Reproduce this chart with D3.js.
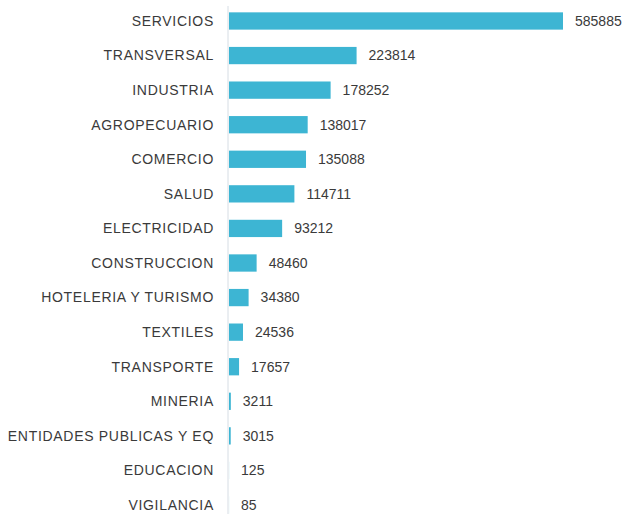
<!DOCTYPE html>
<html>
<head>
<meta charset="utf-8">
<script src="https://cdn.jsdelivr.net/npm/d3@7/dist/d3.min.js"></script>
<style>
  html, body { margin: 0; padding: 0; background: #ffffff; }
  svg { display: block; }
  text { font-family: "Liberation Sans", Arial, sans-serif; fill: #3a3a3a; }
</style>
</head>
<body>
<svg id="chart" width="623" height="514"></svg>
<script>
// Sectores y número de registros
const sectores = [
  "SERVICIOS", "TRANSVERSAL", "INDUSTRIA", "AGROPECUARIO", "COMERCIO",
  "SALUD", "ELECTRICIDAD", "CONSTRUCCION", "HOTELERIA Y TURISMO", "TEXTILES",
  "TRANSPORTE", "MINERIA", "ENTIDADES PUBLICAS Y EQ", "EDUCACION", "VIGILANCIA"
];
const registros = [
  585885, 223814, 178252, 138017, 135088,
  114711, 93212, 48460, 34380, 24536,
  17657, 3211, 3015, 125, 85
];

const svg = d3.select("#chart");
const x0 = 229;

const x = d3.scaleLinear()
  .domain([0, d3.max(registros)])
  .range([x0, 563]);

const y = d3.scaleBand()
  .domain(sectores)
  .range([3.7, 522.3])
  .paddingInner(0.5)
  .paddingOuter(0.25);

const datos = sectores.map((s, i) => ({ sector: s, valor: registros[i] }));

// eje vertical
svg.append("line")
  .attr("x1", x0 - 1).attr("x2", x0 - 1)
  .attr("y1", 6).attr("y2", 514)
  .attr("stroke", "#d6dde4")
  .attr("stroke-width", 1);

// barras
svg.selectAll("rect.barra")
  .data(datos)
  .join("rect")
  .attr("class", "barra")
  .attr("x", x0)
  .attr("y", d => y(d.sector))
  .attr("width", d => Math.max(0, x(d.valor) - x0))
  .attr("height", y.bandwidth())
  .attr("fill", "#3db5d3");

// etiquetas de categoría
svg.selectAll("text.cat")
  .data(datos)
  .join("text")
  .attr("class", "cat")
  .attr("x", 214)
  .attr("y", d => y(d.sector) + y.bandwidth() / 2)
  .attr("dy", "0.35em")
  .attr("text-anchor", "end")
  .attr("font-size", 14)
  .attr("letter-spacing", "0.7px")
  .text(d => d.sector);

// etiquetas de valor
svg.selectAll("text.val")
  .data(datos)
  .join("text")
  .attr("class", "val")
  .attr("x", d => x(d.valor) + 12)
  .attr("y", d => y(d.sector) + y.bandwidth() / 2)
  .attr("dy", "0.35em")
  .attr("font-size", 14)
  .text(d => d.valor);
</script>
</body>
</html>
